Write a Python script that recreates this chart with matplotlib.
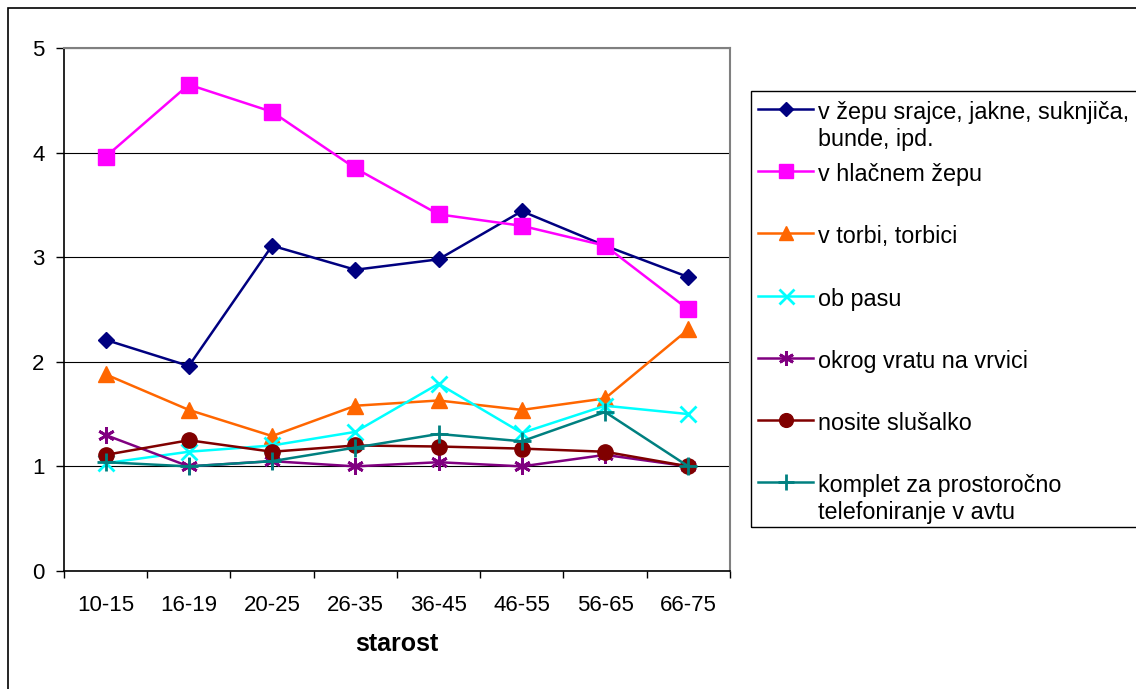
import matplotlib
matplotlib.use("Agg")
import matplotlib.pyplot as plt
from matplotlib.lines import Line2D
from matplotlib.patches import Rectangle

plt.rcParams["font.family"] = ["Liberation Sans", "DejaVu Sans"]

categories = ["10-15", "16-19", "20-25", "26-35", "36-45", "46-55", "56-65", "66-75"]

zep_srajce = [2.21, 1.96, 3.11, 2.88, 2.98, 3.44, 3.11, 2.81]
hlacni_zep = [3.96, 4.65, 4.39, 3.85, 3.41, 3.30, 3.11, 2.50]
torba = [1.88, 1.54, 1.29, 1.58, 1.63, 1.54, 1.65, 2.31]
ob_pasu = [1.03, 1.14, 1.20, 1.33, 1.79, 1.32, 1.58, 1.50]
okrog_vratu = [1.30, 1.00, 1.05, 1.00, 1.04, 1.00, 1.11, 1.00]
slusalka = [1.11, 1.25, 1.14, 1.20, 1.19, 1.17, 1.14, 1.00]
komplet = [1.04, 1.00, 1.05, 1.18, 1.31, 1.24, 1.52, 1.00]

labels = [
    "v žepu srajce, jakne, suknjiča,\nbunde, ipd.",
    "v hlačnem žepu",
    "v torbi, torbici",
    "ob pasu",
    "okrog vratu na vrvici",
    "nosite slušalko",
    "komplet za prostoročno\ntelefoniranje v avtu",
]
series = [zep_srajce, hlacni_zep, torba, ob_pasu, okrog_vratu, slusalka, komplet]
colors = ["#000080", "#FF00FF", "#FF6600", "#00FFFF", "#800080", "#800000", "#008080"]
markers = ["D", "s", "^", "x", (6, 2, 0), "o", "+"]
msizes = [8, 11, 11, 12, 12, 11, 13]
thin = ("x", "+", (6, 2, 0))

fig = plt.figure(figsize=(11.36, 6.89), dpi=100)
ax = fig.add_axes([0.0563, 0.1713, 0.5863, 0.759])

x = list(range(len(categories)))
for vals, c, m, ms in zip(series, colors, markers, msizes):
    ax.plot(x, vals, color=c, lw=1.8, marker=m, markersize=ms,
            markeredgewidth=2 if m in thin else 1,
            markeredgecolor=c, markerfacecolor=c)

ax.set_xlim(-0.5, len(categories) - 0.5)
ax.set_ylim(0, 5)
ax.set_yticks(range(6))
ax.set_xticks(x)
ax.set_xticklabels(categories)
ax.set_xticks([i - 0.5 for i in range(len(categories) + 1)], minor=True)
ax.tick_params(axis="x", which="major", length=0, pad=17, labelsize=16)
ax.tick_params(axis="x", which="minor", length=5, width=1, direction="out")
ax.tick_params(axis="y", length=6, width=1, direction="out", pad=8, labelsize=16)
ax.grid(axis="y", color="black", lw=0.8)
ax.set_axisbelow(True)
for side in ("top", "right"):
    ax.spines[side].set_color("#808080")
    ax.spines[side].set_linewidth(1.5)
ax.spines["left"].set_linewidth(1.2)
ax.spines["bottom"].set_linewidth(1.2)
ax.set_xlabel("starost", fontsize=18, fontweight="bold", labelpad=12)

# outer chart border
fig.add_artist(Rectangle((8 / 1136, -0.01), 1.0, 1 - 8 / 689 + 0.01,
                         transform=fig.transFigure, fill=False,
                         edgecolor="black", lw=1.2))

# legend box drawn like the spreadsheet one
W, H = 1136, 689
fig.add_artist(Rectangle((751 / W, 1 - 527 / H), 1.0, (527 - 91) / H,
                         transform=fig.transFigure, fill=False,
                         edgecolor="black", lw=1.0))
y0, step, line_h = 109, 62.2, 27
for i, (lab, c, m, ms) in enumerate(zip(labels, colors, markers, msizes)):
    ypx = y0 + i * step
    yy = 1 - ypx / H
    fig.add_artist(Line2D([758 / W, 813 / W], [yy, yy], transform=fig.transFigure,
                          color=c, lw=1.8))
    fig.add_artist(Line2D([786 / W], [yy], transform=fig.transFigure, color=c,
                          marker=m, markersize=ms * 0.9, markerfacecolor=c,
                          markeredgecolor=c,
                          markeredgewidth=2 if m in thin else 1))
    for k, part in enumerate(lab.split("\n")):
        fig.text(818 / W, 1 - (ypx + 10 + k * line_h) / H, part, fontsize=16.8,
                 va="baseline", ha="left")

fig.savefig("out.png", dpi=100)
plt.close(fig)
